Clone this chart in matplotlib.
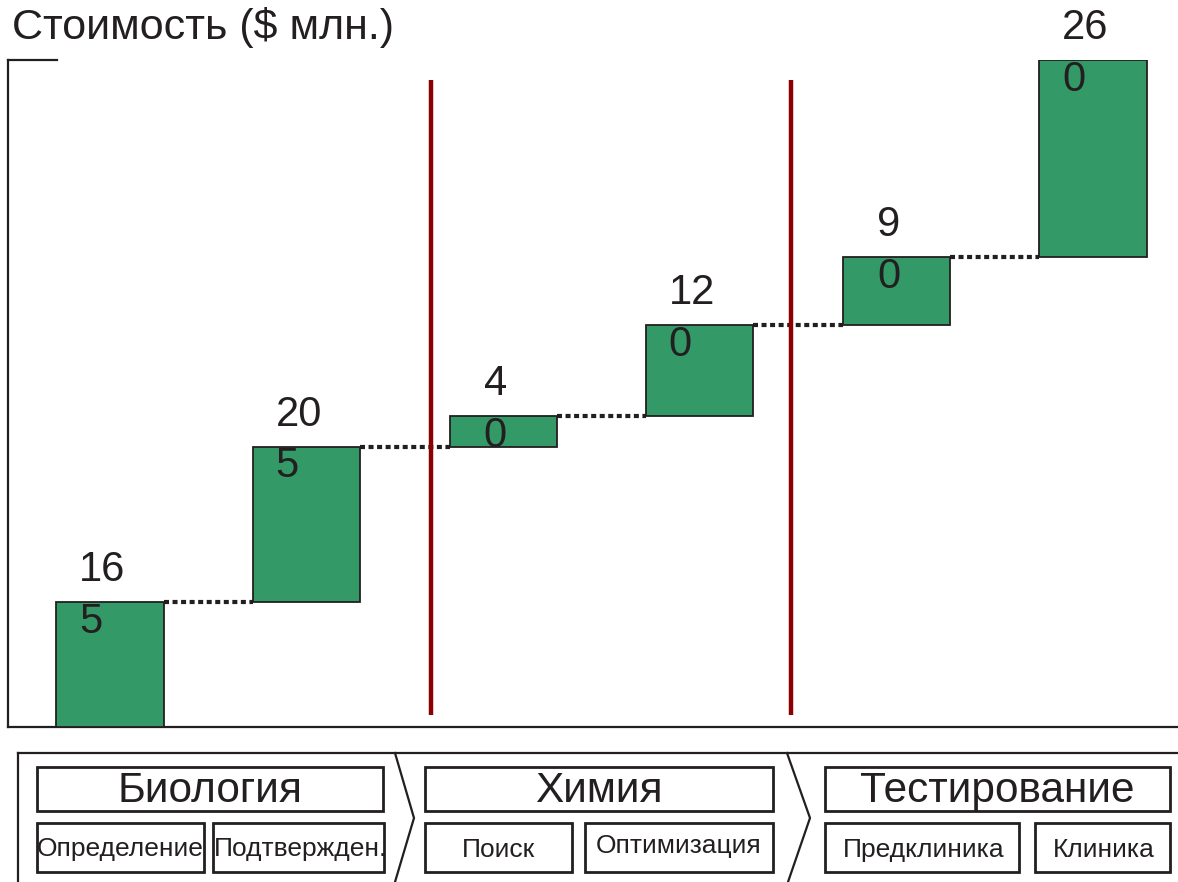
import matplotlib
matplotlib.use("Agg")
import matplotlib.pyplot as plt
from matplotlib.patches import Rectangle
import numpy as np

# ---- data ----
stage_costs = [165, 205, 40, 120, 90, 260]
cost_labels = ["16\n5", "20\n5", "4\n0", "12\n0", "9\n0", "26\n0"]
phases = ["Биология", "Химия", "Тестирование"]
sub_steps = ["Определение", "Подтвержден.", "Поиск", "Оптимизация", "Предклиника", "Клиника"]
phase_dividers = [1.633, 3.464]
title = "Стоимость ($ млн.)"

plt.rcParams['font.family'] = ['Liberation Sans', 'DejaVu Sans']
INK = "#231f20"
GREEN = "#339966"
RED = "#8b0000"

W, H = 1178, 882
fig = plt.figure(figsize=(W / 100, H / 100), dpi=100)

def px_box(x0, y_top, x1, y_bot):
    return [x0 / W, 1 - y_bot / H, (x1 - x0) / W, (y_bot - y_top) / H]

# ---- waterfall ----
ax = fig.add_axes(px_box(8, 60, 1178, 727))
x = np.arange(len(stage_costs))
bottoms = np.concatenate([[0], np.cumsum(stage_costs)[:-1]])
tops = bottoms + np.array(stage_costs)
bw = 0.545
ax.bar(x, stage_costs, bottom=bottoms, width=bw, color=GREEN,
       edgecolor=INK, linewidth=1.3, zorder=3)

# dotted connectors between consecutive bars
for i in range(len(x) - 1):
    ax.hlines(tops[i], x[i] + bw / 2, x[i + 1] - bw / 2, colors=INK,
              linestyles=(0, (1.2, 0.85)), linewidth=3.0, zorder=2)

# phase dividers
ax.vlines(phase_dividers, 16, 853, colors=RED, linewidth=3.2, zorder=4)

# value labels
for xi, top, lab in zip(x, tops, cost_labels):
    ax.text(xi - 0.04, top + 8, lab, ha='center', va='center',
            multialignment='left', fontsize=30, color=INK,
            linespacing=1.38, zorder=5)

ax.set_xlim(-0.519, 5.432)
ax.set_ylim(0, 880)
ax.set_xticks([])
ax.set_yticks([])
for s in ['top', 'right']:
    ax.spines[s].set_visible(False)
for s in ['left', 'bottom']:
    ax.spines[s].set_color(INK)
    ax.spines[s].set_linewidth(1.6)
ax.plot([0, 49 / 1170], [1.0, 1.0], color=INK, lw=1.6,
        transform=ax.transAxes, clip_on=False)

fig.text(12 / W, 1 - 28 / H, title, fontsize=31, color=INK,
         ha='left', va='center')

# ---- process strip ----
bx = fig.add_axes([0, 0, 1, 142 / H])
bx.set_xlim(0, W)
bx.set_ylim(882, 740)
bx.axis('off')

lw_frame = 1.6
bx.plot([18, W], [753, 753], color=INK, lw=lw_frame)
bx.plot([18, 18], [753, 882], color=INK, lw=lw_frame)
for (xt, xtip, xb) in [(395, 414, 395), (787, 810, 788)]:
    bx.plot([xt, xtip, xb], [753, 818, 882], color=INK, lw=lw_frame)

header_boxes = [(37, 383), (425, 773), (825, 1170)]
for (x0, x1), name in zip(header_boxes, phases):
    bx.add_patch(Rectangle((x0, 767), x1 - x0, 44, fill=False,
                           edgecolor=INK, lw=2))
    bx.text((x0 + x1) / 2, 791, name, ha='center', va='center',
            fontsize=30.5, color=INK)

sub_boxes = [(37, 204), (213, 384), (425, 572), (585, 773), (825, 1019), (1035, 1170)]
sub_text_y = [849, 849, 850, 846, 850, 850]
sub_text_x = [120, 301, 498, 679, 924, 1104]
for (x0, x1), name, ty, tx in zip(sub_boxes, sub_steps, sub_text_y, sub_text_x):
    bx.add_patch(Rectangle((x0, 823), x1 - x0, 49, fill=False,
                           edgecolor=INK, lw=2))
    bx.text(tx, ty, name, ha='center', va='center', fontsize=19, color=INK)

fig.savefig("out.png", dpi=100, facecolor='white')
